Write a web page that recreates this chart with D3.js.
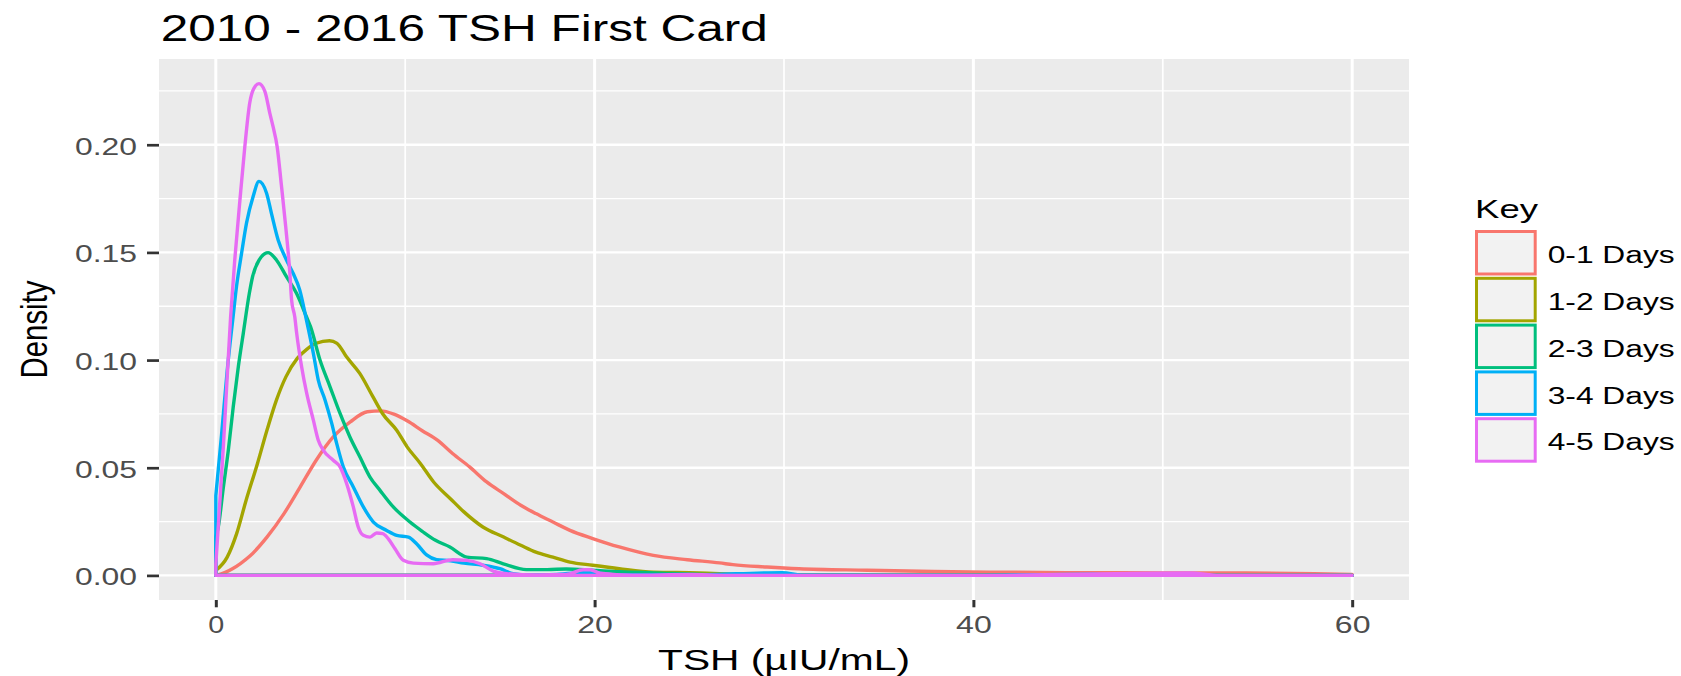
<!DOCTYPE html>
<html>
<head>
<meta charset="utf-8">
<script src="https://cdn.jsdelivr.net/npm/d3@7"></script>
<style>
  body { margin: 0; background: #fff; }
  svg { display: block; font-family: "Liberation Sans", Arial, sans-serif; }
</style>
</head>
<body>
<div id="chart"></div>
<script>
// data: [TSH, density]
const categories = ["0-1 Days", "1-2 Days", "2-3 Days", "3-4 Days", "4-5 Days"];
const colors = ["#F8766D", "#A3A500", "#00BF7D", "#00B0F6", "#E76BF3"];

const days01 = [[0,0],[0.5,0.0014],[0.9,0.0032],[1.3,0.0055],[1.8,0.009],[2.7,0.0178],[3.6,0.0287],[4.45,0.041],[5.3,0.0535],[6.2,0.0643],[7.1,0.0713],[8.0,0.076],[8.7,0.0764],[9.4,0.0749],[10.1,0.0718],[10.9,0.0672],[11.7,0.0628],[12.5,0.0566],[13.4,0.0504],[14.3,0.0434],[15.2,0.038],[16.1,0.0326],[16.9,0.0287],[17.8,0.0248],[18.7,0.0209],[19.9,0.0171],[21.3,0.0132],[23.1,0.0093],[24.9,0.0073],[26.6,0.0058],[27.3,0.005],[29.1,0.0039],[30.8,0.0031],[34.4,0.0024],[37.9,0.0018],[41.4,0.0015],[44.9,0.0013],[50,0.0012],[54.4,0.0011],[58,0.0008],[60,0.0005]];

const days12 = [[0,0.0023],[0.6,0.0085],[1.1,0.0194],[1.6,0.0349],[2.2,0.052],[2.7,0.0674],[3.2,0.0814],[3.7,0.0922],[4.3,0.1008],[4.8,0.105],[5.3,0.1078],[6.0,0.109],[6.4,0.1078],[6.9,0.1015],[7.6,0.0938],[8.3,0.0829],[8.8,0.0752],[9.55,0.0674],[10.1,0.0597],[10.8,0.052],[11.5,0.0434],[12.4,0.0355],[13.1,0.0295],[14.1,0.0225],[15.2,0.0178],[16.1,0.014],[16.9,0.0108],[17.8,0.0085],[18.7,0.0062],[19.9,0.0047],[21.3,0.0031],[23.1,0.0015],[25.5,0.0012],[28,0.0004],[32,0.0002],[40,0.0001],[60,0]];

const days23 = [[0,0.018],[0.13,0.0225],[0.4,0.041],[0.66,0.0581],[0.92,0.0783],[1.19,0.097],[1.45,0.1124],[1.77,0.131],[1.94,0.1387],[2.29,0.1465],[2.76,0.1499],[3.2,0.1465],[3.73,0.1387],[4.26,0.131],[4.79,0.12],[5.0,0.1155],[5.5,0.1],[6.03,0.0876],[6.56,0.0752],[7.08,0.0643],[7.61,0.055],[8.14,0.0457],[8.67,0.0395],[9.37,0.0318],[10.25,0.0248],[10.9,0.0205],[11.6,0.0163],[12.36,0.0132],[13.25,0.0085],[14.3,0.0078],[15.18,0.0054],[16.4,0.0027],[17.5,0.0027],[18.5,0.003],[19.9,0.0024],[21.3,0.0017],[23.1,0.0012],[27,0.0003],[35,0.0001],[60,0]];

const days34 = [[0,0.037],[0.3,0.065],[0.6,0.095],[0.91,0.12],[1.09,0.134],[1.36,0.1496],[1.62,0.1636],[1.97,0.176],[2.28,0.183],[2.68,0.1775],[2.94,0.168],[3.29,0.1558],[3.73,0.1465],[4.08,0.1403],[4.43,0.1326],[4.8,0.118],[5.15,0.1031],[5.41,0.0907],[5.77,0.0814],[6.12,0.0706],[6.38,0.0613],[6.73,0.0504],[7.26,0.0411],[7.79,0.0318],[8.32,0.0248],[9.02,0.0209],[9.55,0.0186],[10.17,0.0178],[10.6,0.0147],[11.13,0.0095],[11.66,0.0073],[12.4,0.0068],[13.1,0.0057],[14.1,0.0047],[15.0,0.0031],[15.7,0.0008],[16.5,0.0002],[18,0.0005],[19.9,0.0015],[20.8,0.0003],[25,0.0002],[29.9,0.0013],[31,0.0001],[40,0],[46.3,0.0006],[48,0],[60,0]];

const days45 = [[0,0.005],[0.4,0.06],[0.78,0.12],[1.0,0.1465],[1.27,0.174],[1.53,0.199],[1.79,0.2194],[2.0,0.226],[2.28,0.2284],[2.59,0.2248],[2.85,0.2147],[3.02,0.2085],[3.24,0.199],[3.47,0.1806],[3.69,0.162],[3.91,0.1403],[4.0,0.128],[4.17,0.12],[4.27,0.1124],[4.53,0.0969],[4.8,0.0845],[5.15,0.0721],[5.41,0.0628],[5.68,0.0581],[6.2,0.0535],[6.56,0.0504],[6.91,0.0426],[7.26,0.0318],[7.52,0.0225],[7.79,0.0186],[8.14,0.0178],[8.49,0.0197],[8.81,0.0194],[9.1,0.0171],[9.46,0.0124],[9.9,0.007],[10.43,0.0057],[11.48,0.0054],[12.5,0.0073],[13.25,0.007],[13.96,0.0054],[14.65,0.002],[15.36,0.0008],[17,0.0002],[18.5,0.0004],[19.4,0.0026],[19.76,0.0026],[20.3,0.001],[22,0.0001],[25,0.0004],[27,0],[40,0],[51.4,0.0012],[53,0],[60,0]];

const series = [days01, days12, days23, days34, days45];

const xTicks = [0, 20, 40, 60];
const xMinor = [10, 30, 50];
const yTicks = [0, 0.05, 0.10, 0.15, 0.20];
const yMinor = [0.025, 0.075, 0.125, 0.175, 0.225];

const chartTitle = "2010 - 2016 TSH First Card";
const xTitle = "TSH (\u00b5IU/mL)";
const yTitle = "Density";
const legendTitle = "Key";

const width = 1681, height = 676;
const panel = { left: 159, right: 1409, top: 59, bottom: 600 };

const svg = d3.select("#chart").append("svg")
  .attr("width", width).attr("height", height);

// ggplot-like expansion of 5% each side
const xScale = d3.scaleLinear().domain([-3, 63]).range([panel.left, panel.right]);
const yMax = d3.max(series, s => d3.max(s, d => d[1]));
const yScale = d3.scaleLinear().domain([-yMax * 0.05, yMax * 1.05]).range([panel.bottom, panel.top]);

svg.append("rect")
  .attr("x", panel.left).attr("y", panel.top)
  .attr("width", panel.right - panel.left).attr("height", panel.bottom - panel.top)
  .attr("fill", "#EBEBEB");

const grid = svg.append("g");
grid.selectAll(".ymin").data(yMinor).enter().append("line")
  .attr("x1", panel.left).attr("x2", panel.right)
  .attr("y1", d => yScale(d)).attr("y2", d => yScale(d))
  .attr("stroke", "#fff").attr("stroke-width", 1.3);
grid.selectAll(".xmin").data(xMinor).enter().append("line")
  .attr("y1", panel.top).attr("y2", panel.bottom)
  .attr("x1", d => xScale(d)).attr("x2", d => xScale(d))
  .attr("stroke", "#fff").attr("stroke-width", 1.7);
grid.selectAll(".ymaj").data(yTicks).enter().append("line")
  .attr("x1", panel.left).attr("x2", panel.right)
  .attr("y1", d => yScale(d)).attr("y2", d => yScale(d))
  .attr("stroke", "#fff").attr("stroke-width", 2.4);
grid.selectAll(".xmaj").data(xTicks).enter().append("line")
  .attr("y1", panel.top).attr("y2", panel.bottom)
  .attr("x1", d => xScale(d)).attr("x2", d => xScale(d))
  .attr("stroke", "#fff").attr("stroke-width", 3);

// density outlines, drawn as closed polygons like old geom_density
const area = d3.area()
  .x(d => xScale(d[0]))
  .y0(yScale(0))
  .y1(d => yScale(d[1]))
  .curve(d3.curveMonotoneX);

svg.append("g").selectAll("path")
  .data(series)
  .enter()
  .append("path")
  .attr("d", d => area(d))
  .attr("fill", "none")
  .attr("stroke", (d, i) => colors[i])
  .attr("stroke-width", 3.4)
  .attr("stroke-linejoin", "round");

// axes
const yAxis = svg.append("g")
  .attr("transform", `translate(${panel.left},0)`)
  .call(d3.axisLeft(yScale).tickValues(yTicks).tickFormat(d3.format(".2f")).tickSize(12).tickPadding(10));
yAxis.select(".domain").remove();
yAxis.selectAll(".tick line").attr("stroke", "#333333").attr("stroke-width", 2.7);
yAxis.selectAll(".tick text")
  .attr("font-size", 23.5).attr("font-family", null).attr("fill", "#4D4D4D")
  .attr("dy", "0.40em")
  .attr("textLength", 62).attr("lengthAdjust", "spacingAndGlyphs");

const xAxis = svg.append("g")
  .attr("transform", `translate(0,${panel.bottom})`)
  .call(d3.axisBottom(xScale).tickValues(xTicks).tickSize(7.3).tickPadding(9));
xAxis.select(".domain").remove();
xAxis.selectAll(".tick line").attr("stroke", "#333333").attr("stroke-width", 3);
xAxis.selectAll(".tick text")
  .attr("font-size", 24).attr("font-family", null).attr("fill", "#4D4D4D")
  .attr("textLength", d => d === 0 ? 16 : 35.7).attr("lengthAdjust", "spacingAndGlyphs");

// titles
svg.append("text")
  .attr("x", 160.8).attr("y", 40.7)
  .attr("font-size", 36)
  .attr("textLength", 607).attr("lengthAdjust", "spacingAndGlyphs")
  .text(chartTitle);

svg.append("text")
  .attr("x", (panel.left + panel.right) / 2).attr("y", 670)
  .attr("text-anchor", "middle")
  .attr("font-size", 29)
  .attr("textLength", 252).attr("lengthAdjust", "spacingAndGlyphs")
  .text(xTitle);

svg.append("g")
  .attr("transform", `translate(46.7,${(panel.top + panel.bottom) / 2}) scale(1.3,1) rotate(-90)`)
  .append("text")
  .attr("text-anchor", "middle")
  .attr("font-size", 28)
  .attr("textLength", 98).attr("lengthAdjust", "spacingAndGlyphs")
  .text(yTitle);

// legend
const legend = svg.append("g");
legend.append("text")
  .attr("x", 1475).attr("y", 218.3)
  .attr("font-size", 25.5)
  .attr("textLength", 63).attr("lengthAdjust", "spacingAndGlyphs")
  .text(legendTitle);

const keyTop = 230, keyStep = 46.8;
const rows = legend.selectAll(".key").data(categories).enter().append("g")
  .attr("transform", (d, i) => `translate(0,${keyTop + i * keyStep})`);
rows.append("rect")
  .attr("x", 1476.5).attr("y", 1.5)
  .attr("width", 58.7).attr("height", 42.5)
  .attr("fill", "#F2F2F2")
  .attr("stroke", (d, i) => colors[i])
  .attr("stroke-width", 3);
rows.append("text")
  .attr("x", 1547.7).attr("y", 33.3)
  .attr("font-size", 24.7)
  .attr("textLength", 127).attr("lengthAdjust", "spacingAndGlyphs")
  .text(d => d);
</script>
</body>
</html>
